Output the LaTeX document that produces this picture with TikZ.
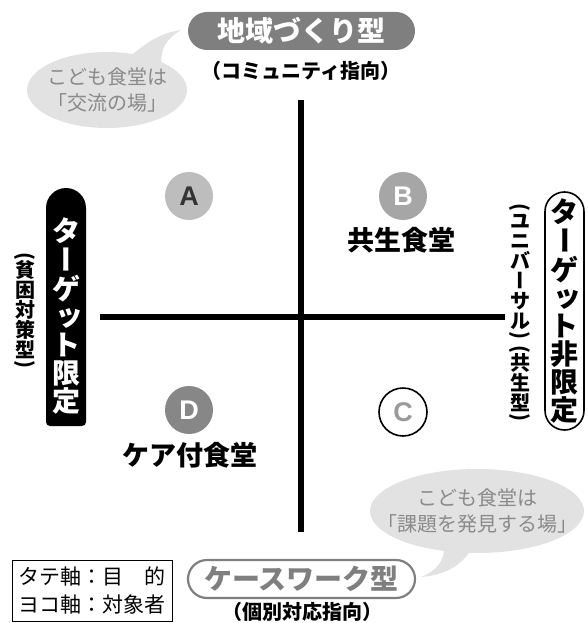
\documentclass[tikz,border=0pt]{standalone}
\usepackage{fontspec}
\usetikzlibrary{shapes.geometric,shapes.misc}
\newfontfamily\jp{Noto Sans CJK JP}
\newfontfamily\lat{Liberation Sans}
\newcommand\myfs[2]{\fontsize{#1}{#2}\selectfont}
\newcommand\vbar{\rotatebox[origin=c]{-90}{\vphantom{国}ー}}
\newcommand\vpo{\rotatebox[origin=c]{-90}{(}}
\newcommand\vpc{\rotatebox[origin=c]{-90}{)}}
\newcommand\vsm[1]{\raisebox{0.05em}{\hspace*{0.22em}#1}}
\definecolor{pillgray}{HTML}{7F7F7F}
\definecolor{bubblefill}{HTML}{E2E2E2}
\definecolor{bubbletext}{HTML}{8A8A8A}
\definecolor{circA}{HTML}{BDBDBD}
\definecolor{circB}{HTML}{A6A6A6}
\definecolor{circD}{HTML}{878787}
\definecolor{letterC}{HTML}{9A9A9A}
\begin{document}
\begin{tikzpicture}[x=1pt,y=-1pt,
  hpill/.style={rounded rectangle, minimum width=227, minimum height=38, inner sep=0},
  bubblebox/.style={ellipse, fill=bubblefill, inner sep=0},
  bubbletxt/.style={align=center, text=bubbletext, font=\jp\myfs{20}{26}},
  lettercirc/.style={circle, minimum size=48, inner sep=0, font=\lat\bfseries\myfs{27}{27}},
  vlabel/.style={align=center, inner sep=0, font=\jp\bfseries\myfs{28}{28}},
  vsmall/.style={align=center, inner sep=0, font=\jp\bfseries\myfs{20}{20}},
  subtitle/.style={inner sep=0, font=\jp\bfseries\myfs{20}{20}},
  quadlabel/.style={inner sep=0, font=\jp\bfseries\myfs{27}{27}}
]
\useasboundingbox (0,0) rectangle (587,623);

% speech bubbles
\node[bubblebox, minimum width=160, minimum height=76] (lb) at (107,90) {};
\coordinate (lbtip) at (181,30);
\fill[bubblefill] (126,60) .. controls (145,43) and (160,33) .. (lbtip)
  .. controls (168,38) and (159,48) .. (162,66) -- (140,72) -- cycle;
\node[bubbletxt] (lbt) at (lb.center) {こども食堂は\\「交流の場」};

\node[bubblebox, minimum width=214, minimum height=84] (rb) at (477,511) {};
\coordinate (rbtip) at (421,577);
\fill[bubblefill] (444,546) .. controls (445,561) and (436,571) .. (rbtip)
  .. controls (446,575) and (463,565) .. (473,546) -- cycle;
\node[bubbletxt] (rbt) at (rb.center) {こども食堂は\\「課題を発見する場」};

% top title
\node[hpill, fill=pillgray, text=white, font=\jp\bfseries\myfs{28}{28}] (top) at (301.5,31) {地域づくり型};
\node[subtitle] (topsub) at (301,71) {（コミュニティ指向）};

% bottom title
\node[hpill, draw=pillgray, line width=2.2, fill=white, text=pillgray, font=\jp\bfseries\myfs{28}{28}] (bot) at (301.5,579) {ケースワーク型};
\node[subtitle] (botsub) at (302,612) {（個別対応指向）};

% axes
\coordinate (vt) at (301,100);
\coordinate (vb) at (301,532);
\coordinate (hl) at (100,317);
\coordinate (hr) at (505,317);
\draw[line width=6.5] (vt) -- (vb);
\draw[line width=6.5] (hl) -- (hr);

% quadrant letters
\node[lettercirc, fill=circA, text=black!80] (A) at (189,196) {A};
\node[lettercirc, fill=circB, text=white] (B) at (403,196) {B};
\node[quadlabel] (Bl) at (401,240) {共生食堂};
\node[lettercirc, fill=circD, text=white] (D) at (189,410) {D};
\node[quadlabel] (Dl) at (190,455) {ケア付食堂};
\node[lettercirc, draw=black, line width=1.6, fill=white, text=letterC] (C) at (403,412) {C};

% left pill
\fill (46,300) [rounded corners=20] -- (46,188) -- (86,188) -- (86,300)
  [rounded corners=4] -- (86,426) -- (46,426) -- cycle;
\node[vlabel, text=white] (lp) at (66,316) {タ\\\vbar\\ゲ\\\vsm{ッ}\\ト\\限\\定};
\node[vsmall] (lps) at (25,312) {\vpo\\[-0.3em]貧\\困\\対\\策\\型\\[-0.3em]\vpc};

% right pill
\draw[line width=1.6, fill=white, rounded corners=19.5] (545,192) rectangle (584,430);
\node[vlabel] (rp) at (564.5,311) {タ\\\vbar\\ゲ\\\vsm{ッ}\\ト\\非\\限\\定};
\node[vsmall] (rps) at (520,314) {\vpo\\[-0.3em]ユ\\ニ\\バ\\\vbar\\サ\\ル\\[-0.3em]\vpc\\[-0.3em]\vpo\\[-0.3em]共\\生\\型\\[-0.3em]\vpc};

% legend
\node[draw, line width=1, minimum width=160, minimum height=61, align=left, inner sep=3,
  font=\jp\myfs{21}{28}] (legend) at (92,590.5) {タテ軸：目　的\\ヨコ軸：対象者};
\end{tikzpicture}
\end{document}
